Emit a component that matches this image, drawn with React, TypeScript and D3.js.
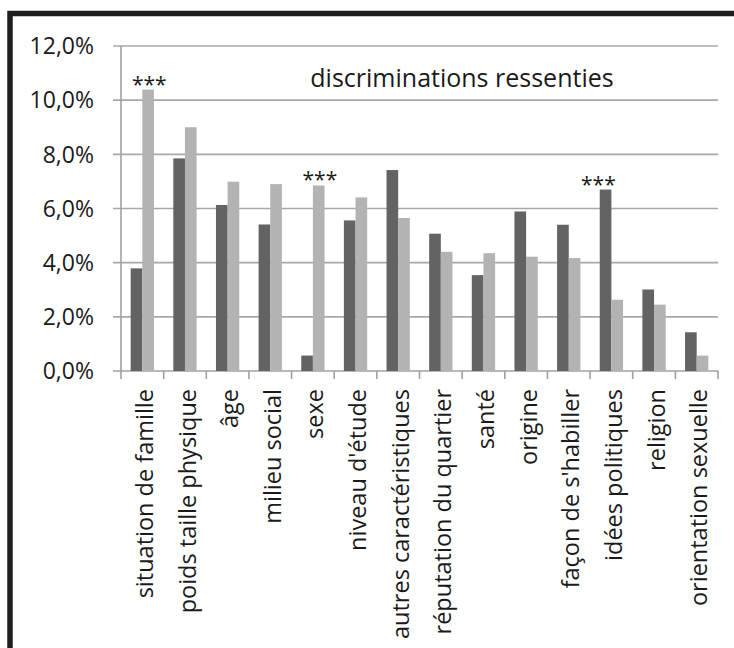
import React, { useEffect, useRef } from "react";
import * as d3 from "d3";

const categories = [
    "situation de famille",
    "poids taille physique",
    "âge",
    "milieu social",
    "sexe",
    "niveau d'étude",
    "autres caractéristiques",
    "réputation du quartier",
    "santé",
    "origine",
    "façon de s'habiller",
    "idées politiques",
    "religion",
    "orientation sexuelle",
];

// two groups, values in %
const darkValues = [3.79, 7.85, 6.13, 5.41, 0.57, 5.56, 7.42, 5.07, 3.54, 5.89, 5.40, 6.70, 3.01, 1.43];
const lightValues = [10.39, 9.0, 6.99, 6.90, 6.85, 6.41, 5.65, 4.40, 4.35, 4.22, 4.17, 2.63, 2.45, 0.57];

const yTicks = [0, 2, 4, 6, 8, 10, 12];
const significant = ["situation de famille", "sexe", "idées politiques"];
const chartTitle = "discriminations ressenties";

const FONT = "'Open Sans', sans-serif";

export default function App() {
    const svgRef = useRef(null);
    const width = 734;
    const height = 648;

    useEffect(() => {
        const margin = { top: 46, right: 16, bottom: 277, left: 121 };

        const svg = d3.select(svgRef.current)
            .attr("width", width)
            .attr("height", height);

        svg.selectAll("*").remove();

        const frLocale = d3.formatLocale({ decimal: ",", thousands: " ", grouping: [3], currency: ["", "€"] });
        const fmt = frLocale.format(".1f");

        const xScale = d3.scaleBand()
            .domain(categories)
            .range([margin.left, width - margin.right])
            .paddingInner(0)
            .paddingOuter(0);

        const xSeries = d3.scaleBand()
            .domain(["dark", "light"])
            .range([0, xScale.bandwidth()])
            .paddingInner(0)
            .paddingOuter(0.83);

        const yScale = d3.scaleLinear()
            .domain([0, 12])
            .range([height - margin.bottom, margin.top]);

        // gridlines + y ticks
        svg.append("g")
            .selectAll("line")
            .data(yTicks.filter(t => t > 0))
            .join("line")
            .attr("x1", margin.left - 8)
            .attr("x2", width - margin.right)
            .attr("y1", d => yScale(d))
            .attr("y2", d => yScale(d))
            .attr("stroke", "#a8a8a8")
            .attr("stroke-width", 1.6);

        // y labels
        svg.append("g")
            .selectAll("text")
            .data(yTicks)
            .join("text")
            .attr("x", 94)
            .attr("y", d => yScale(d))
            .attr("dy", "0.36em")
            .attr("text-anchor", "end")
            .style("font-family", FONT)
            .style("font-size", "23px")
            .attr("fill", "#1a1a1a")
            .text(d => fmt(d) + "%");

        // axes lines
        const y0 = yScale(0);
        svg.append("line")
            .attr("x1", margin.left).attr("x2", margin.left)
            .attr("y1", yScale(12)).attr("y2", y0)
            .attr("stroke", "#a0a0a0").attr("stroke-width", 1.6);

        svg.append("line")
            .attr("x1", margin.left - 8).attr("x2", width - margin.right)
            .attr("y1", y0).attr("y2", y0)
            .attr("stroke", "#a0a0a0").attr("stroke-width", 1.6);

        // x ticks at band boundaries
        const boundaries = categories.map(c => xScale(c)).concat([width - margin.right]);
        svg.append("g")
            .selectAll("line")
            .data(boundaries)
            .join("line")
            .attr("x1", d => d).attr("x2", d => d)
            .attr("y1", y0).attr("y2", y0 + 8)
            .attr("stroke", "#a0a0a0").attr("stroke-width", 1.6);

        // bars
        const rows = categories.map((c, i) => ({ c, dark: darkValues[i], light: lightValues[i] }));
        const groups = svg.append("g")
            .selectAll("g")
            .data(rows)
            .join("g")
            .attr("transform", d => `translate(${xScale(d.c)},0)`);

        groups.append("rect")
            .attr("x", xSeries("dark"))
            .attr("width", xSeries.bandwidth())
            .attr("y", d => yScale(d.dark))
            .attr("height", d => y0 - yScale(d.dark))
            .attr("fill", "#636363");

        groups.append("rect")
            .attr("x", xSeries("light"))
            .attr("width", xSeries.bandwidth())
            .attr("y", d => yScale(d.light))
            .attr("height", d => y0 - yScale(d.light))
            .attr("fill", "#b3b3b3");

        // significance stars above the taller bar
        svg.append("g")
            .selectAll("text")
            .data(rows.filter(r => significant.includes(r.c)))
            .join("text")
            .attr("x", d => xScale(d.c) + xScale.bandwidth() / 2 + (d.light > d.dark ? 7 : -13))
            .attr("y", d => yScale(Math.max(d.dark, d.light)) + 2)
            .attr("text-anchor", "middle")
            .style("font-family", FONT)
            .style("font-size", "21px")
            .attr("fill", "#1a1a1a")
            .text("***");

        // category labels, rotated
        svg.append("g")
            .selectAll("text")
            .data(categories)
            .join("text")
            .attr("transform", d => `translate(${xScale(d) + xScale.bandwidth() / 2},389) rotate(-90)`)
            .attr("dy", "0.45em")
            .attr("text-anchor", "end")
            .style("font-family", FONT)
            .style("font-size", "23.5px")
            .attr("fill", "#1a1a1a")
            .text(d => d);

        // title inside plot
        svg.append("text")
            .attr("x", 462)
            .attr("y", 87)
            .attr("text-anchor", "middle")
            .style("font-family", FONT)
            .style("font-size", "25px")
            .attr("fill", "#1a1a1a")
            .text(chartTitle);

        // heavy frame, left and top
        svg.append("path")
            .attr("d", `M10,${height} V13.5 H${width}`)
            .attr("fill", "none")
            .attr("stroke", "#1e1e1e")
            .attr("stroke-width", 5.5);
    }, []);

    return (
        <svg ref={svgRef} style={{ position: "absolute", left: 0, top: 0, background: "#fff" }} />
    );
}
